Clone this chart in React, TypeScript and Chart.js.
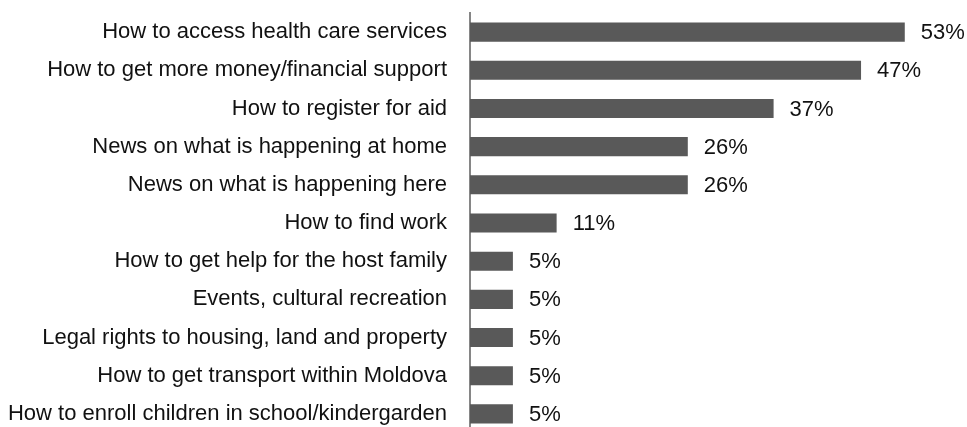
import React, { useEffect, useRef } from "react";
import { Chart, registerables } from "chart.js";

Chart.register(...registerables);

const categories: string[] = [
  "How to access health care services",
  "How to get more money/financial support",
  "How to register for aid",
  "News on what is happening at home",
  "News on what is happening here",
  "How to find work",
  "How to get help for the host family",
  "Events, cultural recreation",
  "Legal rights to housing, land and property",
  "How to get transport within Moldova",
  "How to enroll children in school/kindergarden",
];

const values: number[] = [52.7, 47.4, 36.8, 26.4, 26.4, 10.5, 5.2, 5.2, 5.2, 5.2, 5.2];

const valueLabels: string[] = ["53%", "47%", "37%", "26%", "26%", "11%", "5%", "5%", "5%", "5%", "5%"];

const FONT = "'Liberation Sans', Arial, sans-serif";

const valueLabelPlugin = {
  id: "valueLabels",
  afterDatasetsDraw(chart: any) {
    const ctx = chart.ctx;
    const meta = chart.getDatasetMeta(0);
    ctx.save();
    ctx.font = `22px ${FONT}`;
    ctx.fillStyle = "#111111";
    ctx.textAlign = "left";
    ctx.textBaseline = "middle";
    meta.data.forEach((bar: any, i: number) => {
      ctx.fillText(valueLabels[i], bar.x + 16, bar.y + 1);
    });
    ctx.restore();
  },
};

export default function App() {
  const ref = useRef<HTMLCanvasElement | null>(null);

  useEffect(() => {
    if (!ref.current) return;
    const chart = new Chart(ref.current, {
      type: "bar",
      data: {
        labels: categories,
        datasets: [
          {
            data: values,
            backgroundColor: "#595959",
            borderWidth: 0,
            barPercentage: 0.5,
            categoryPercentage: 1,
          },
        ],
      },
      options: {
        indexAxis: "y",
        responsive: false,
        animation: false,
        devicePixelRatio: 1,
        layout: { padding: { top: 13, bottom: 7, left: 0, right: 2 } },
        plugins: {
          legend: { display: false },
          tooltip: { enabled: false },
          title: { display: false },
        },
        scales: {
          x: {
            display: false,
            min: 0,
            max: 60,
          },
          y: {
            grid: { display: false, drawTicks: false },
            border: { display: true, color: "#868686", width: 2 },
            ticks: {
              color: "#111111",
              padding: 23,
              font: { family: FONT, size: 22 },
              autoSkip: false,
            },
            afterFit: (scale: any) => {
              scale.width = 470;
              scale.paddingTop = 0;
              scale.paddingBottom = 0;
            },
          },
        },
      },
      plugins: [valueLabelPlugin],
    });
    return () => chart.destroy();
  }, []);

  return (
    <div
      style={{
        position: "absolute",
        left: 0,
        top: 0,
        width: 967,
        height: 427,
        overflow: "hidden",
      }}
    >
      <canvas ref={ref} width={967} height={440} style={{ display: "block" }} />
    </div>
  );
}
